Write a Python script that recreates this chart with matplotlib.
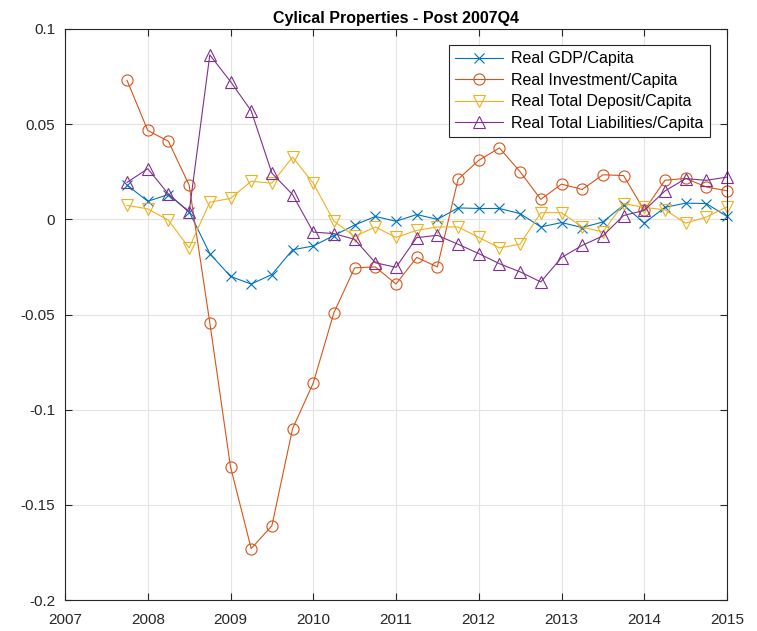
import matplotlib
matplotlib.use("agg")
import numpy as np
import matplotlib.pyplot as plt
from matplotlib.ticker import FuncFormatter

# quarters from 2007Q4 to 2015Q1 (30 points)
quarters = [2007.75 + 0.25 * i for i in range(30)]

gdp = [0.018, 0.0095, 0.013, 0.004, -0.018, -0.030, -0.034, -0.029, -0.016,
       -0.014, -0.0085, -0.003, 0.0015, -0.001, 0.0025, 0.0, 0.006, 0.0057,
       0.0057, 0.003, -0.004, -0.0017, -0.0043, -0.0014, 0.0075, -0.002,
       0.0063, 0.0085, 0.0083, 0.0015]

investment = [0.073, 0.0467, 0.041, 0.018, -0.0544, -0.130, -0.173, -0.161,
              -0.110, -0.086, -0.049, -0.0255, -0.025, -0.034, -0.020, -0.025,
              0.021, 0.031, 0.0375, 0.025, 0.0105, 0.0185, 0.0157, 0.0234,
              0.023, 0.0047, 0.0205, 0.0215, 0.017, 0.015]

deposit = [0.0073, 0.0055, -0.0005, -0.015, 0.009, 0.011, 0.020, 0.019,
           0.0327, 0.019, -0.001, -0.009, -0.004, -0.0095, -0.0058, -0.004,
           -0.004, -0.0095, -0.015, -0.013, 0.0035, 0.0035, -0.004, -0.0067,
           0.0083, 0.0063, 0.005, -0.002, 0.0012, 0.0065]

liabilities = [0.0194, 0.0266, 0.0133, 0.0038, 0.0864, 0.0724, 0.057, 0.0243,
               0.013, -0.0067, -0.0075, -0.0105, -0.0228, -0.0252, -0.0096,
               -0.0084, -0.0131, -0.018, -0.0233, -0.0276, -0.0329, -0.0201,
               -0.0137, -0.0087, 0.002, 0.0047, 0.0149, 0.0214, 0.0205, 0.0222]

labels = ['Real GDP/Capita', 'Real Investment/Capita',
          'Real Total Deposit/Capita', 'Real Total Liabilities/Capita']
colors = ['#0072BD', '#D95319', '#EDB120', '#7E2F8E']
markers = ['x', 'o', 'v', '^']

plt.rcParams['font.family'] = ['Liberation Sans', 'DejaVu Sans']

fig = plt.figure(figsize=(7.57, 6.31), dpi=100)
ax = fig.add_axes([65 / 757, 31 / 631, 662 / 757, 571 / 631])

for series, lab, col, mk in zip([gdp, investment, deposit, liabilities],
                                labels, colors, markers):
    ax.plot(quarters, series, color=col, marker=mk, label=lab,
            linewidth=0.8, markersize=8 if mk != 'x' else 6.5,
            markerfacecolor='none', markeredgewidth=0.8, clip_on=False)

ax.set_xlim(2007, 2015)
ax.set_ylim(-0.2, 0.1)
ax.set_xticks(range(2007, 2016))
ax.set_yticks([-0.2, -0.15, -0.1, -0.05, 0, 0.05, 0.1])
ax.yaxis.set_major_formatter(FuncFormatter(lambda v, p: '%g' % round(v, 3)))
ax.grid(True, color='#e3e3e3', linewidth=0.8)
ax.set_axisbelow(True)
ax.tick_params(direction='in', top=True, right=True, labelsize=11,
               length=5, color='#262626', labelcolor='#262626')
ax.tick_params(axis='x', pad=9)
ax.tick_params(axis='y', pad=7)
for s in ax.spines.values():
    s.set_color('#262626')
    s.set_linewidth(0.8)

ax.set_title('Cylical Properties - Post 2007Q4', fontsize=11.5,
             fontweight='bold', pad=4)

leg = ax.legend(loc='upper right', bbox_to_anchor=(0.974, 0.972),
                borderaxespad=0, fontsize=11.5, fancybox=False, framealpha=1,
                edgecolor='#262626', handlelength=3.0, borderpad=0.4,
                labelspacing=0.4, handletextpad=0.5)
leg.get_frame().set_linewidth(0.8)

fig.savefig('out.png', dpi=100)
